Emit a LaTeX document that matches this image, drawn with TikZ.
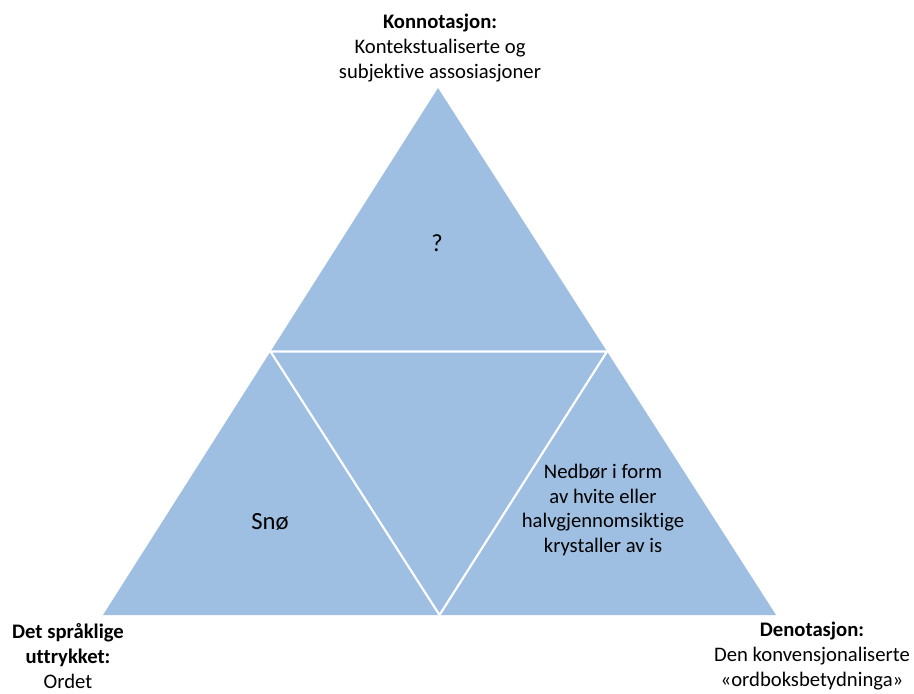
\documentclass[tikz,border=0pt]{standalone}
\usepackage{fontspec}
\setmainfont[Ligatures=CommonOff]{Carlito}
\definecolor{triblue}{RGB}{158,191,226}
\begin{document}
\begin{tikzpicture}[x=0.75pt,y=-0.75pt,
  lbl/.style={align=center,font=\fontsize{15.5}{18.5}\selectfont,inner sep=0pt},
  big/.style={align=center,font=\fontsize{18.5}{22}\selectfont,inner sep=0pt}]
\useasboundingbox (0,0) rectangle (914,693);
\coordinate (A) at (438,88);
\coordinate (L) at (103,615);
\coordinate (R) at (776,615);
\coordinate (ML) at (270.5,351.5);
\coordinate (MR) at (607,351.5);
\coordinate (MB) at (439.5,615);
\fill[triblue] (A) -- (L) -- (R) -- cycle;
\draw[white,line width=1.6pt] (ML) -- (MR) -- (MB) -- cycle;
\node[lbl] (top) at (440,48) {\textbf{Konnotasjon:}\\Kontekstualiserte og\\subjektive assosiasjoner};
\node[big] (q) at (437,243) {?};
\node[big] (sno) at (270,522) {Snø};
\node[lbl] (den) at (603,510) {Nedbør i form\\av hvite eller\\halvgjennomsiktige\\krystaller av is};
\node[lbl] (left) at (68,656) {\textbf{Det språklige}\\\textbf{uttrykket:}\\Ordet};
\node[lbl] (right) at (812,656) {\textbf{Denotasjon:}\\Den konvensjonaliserte\\«ordboksbetydninga»};
\end{tikzpicture}
\end{document}
